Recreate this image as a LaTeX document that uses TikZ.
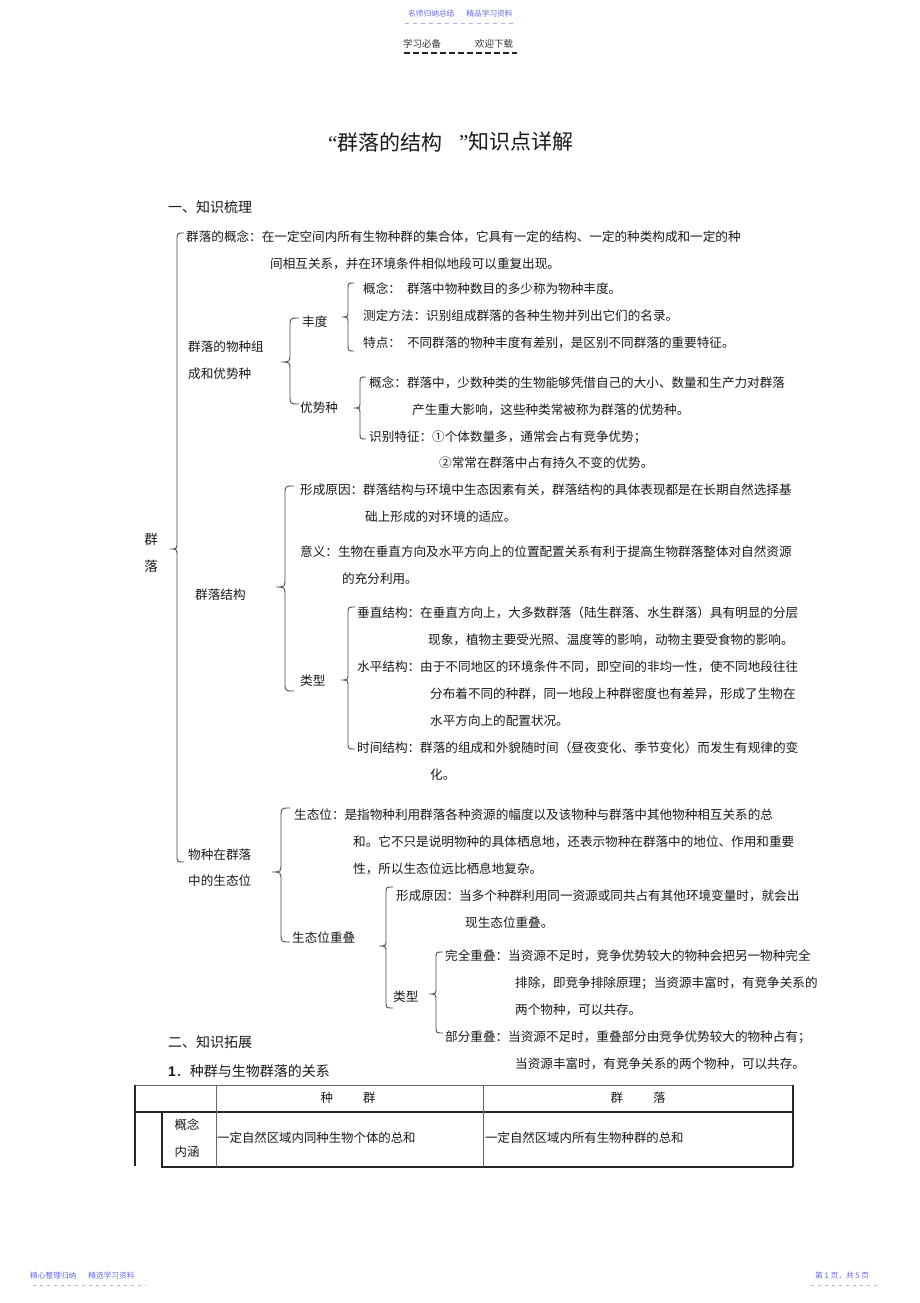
\documentclass[tikz,border=0pt]{standalone}
\usepackage{fontspec}
\newfontfamily\cjk{Noto Sans CJK SC}
\newfontfamily\lsans{Liberation Sans}
\newfontfamily\lserif{Liberation Serif}
\definecolor{hdrblue}{RGB}{105,105,235}
\definecolor{dashblue}{RGB}{175,175,240}
\definecolor{ink}{RGB}{25,25,25}
\newcommand\cbr[5]{%
  \draw[bracestyle] ({#1+#5},#2) .. controls (#1,#2) .. (#1,{#2+#5})
    -- (#1,{#3-#5}) .. controls (#1,#3) .. ({#1-#5},#3)
    .. controls (#1,#3) .. (#1,{#3+#5})
    -- (#1,{#4-#5}) .. controls (#1,#4) .. ({#1+#5},#4);}
\tikzset{
  txt/.style={anchor=west, inner sep=0pt, text=ink, font=\cjk\fontsize{12.6}{14}\selectfont},
  headtxt/.style={txt, font=\cjk\fontsize{14}{16}\selectfont},
  celltxt/.style={inner sep=0pt, text=ink, font=\cjk\fontsize{12.4}{14}\selectfont},
  bracestyle/.style={draw=black!70, line width=0.9pt},
  thickrule/.style={draw=black!85, line width=1.6pt},
  thinrule/.style={draw=black!60, line width=0.8pt},
  smallblue/.style={anchor=west, inner sep=0pt, text=hdrblue, font=\cjk\fontsize{7.7}{9}\selectfont},
}
\begin{document}
\begin{tikzpicture}[x=1pt,y=-1pt]
\useasboundingbox[fill=white] (0,0) rectangle (920,1303);

% page header
\node[smallblue] (hd1) at (408,14) {名师归纳总结\hspace{12pt}精品学习资料};
\draw[draw=dashblue, line width=0.8pt, dash pattern=on 4pt off 4pt] (405,23) -- (517,23);
\node[anchor=west, inner sep=0pt, text=black!80, font=\cjk\fontsize{9.5}{11}\selectfont] (hd2) at (403,44) {学习必备\hspace{34pt}欢迎下载};
\draw[draw=black!85, line width=1.3pt, dash pattern=on 6pt off 3pt] (404,53) -- (517,53);

% title
\node[anchor=west, inner sep=0pt, text=ink, font=\cjk\fontsize{21}{24}\selectfont] (title1) at (328,142) {{\lserif “}群落的结构};
\node[anchor=west, inner sep=0pt, text=ink, font=\cjk\fontsize{21}{24}\selectfont] (title2) at (459,142) {{\lserif ”}知识点详解};

% section 1
\node[headtxt] (sec1) at (168,207) {一、知识梳理};
\cbr{177}{233}{549}{862}{7}
\node[anchor=center, inner sep=0pt, text=ink, font=\cjk\fontsize{13.5}{15}\selectfont] (qun1) at (151,539) {群};
\node[anchor=center, inner sep=0pt, text=ink, font=\cjk\fontsize{13.5}{15}\selectfont] (qun2) at (151,566) {落};

\node[txt] (qu1) at (186,237) {群落的概念：在一定空间内所有生物种群的集合体，它具有一定的结构、一定的种类构成和一定的种};
\node[txt] (qu2) at (270,264) {间相互关系，并在环境条件相似地段可以重复出现。};

% species composition
\node[txt] (zc1) at (188,347) {群落的物种组};
\node[txt] (zc2) at (188,374) {成和优势种};
\cbr{290}{318}{362}{404}{9}
\node[txt] (fd) at (302,322) {丰度};
\cbr{348}{283}{317}{351}{6}
\node[txt] (fd1) at (363,289) {概念：\hspace{6pt}群落中物种数目的多少称为物种丰度。};
\node[txt] (fd2) at (363,316) {测定方法：识别组成群落的各种生物并列出它们的名录。};
\node[txt] (fd3) at (363,343) {特点：\hspace{6pt}不同群落的物种丰度有差别，是区别不同群落的重要特征。};
\node[txt] (ys) at (300,408) {优势种};
\cbr{360}{377}{408}{439}{6}
\node[txt] (ys1) at (369,383) {概念：群落中，少数种类的生物能够凭借自己的大小、数量和生产力对群落};
\node[txt] (ys2) at (412,410) {产生重大影响，这些种类常被称为群落的优势种。};
\node[txt] (ys3) at (369,437) {识别特征：①个体数量多，通常会占有竞争优势；};
\node[txt] (ys4) at (439,463) {②常常在群落中占有持久不变的优势。};

% structure
\node[txt] (jg) at (195,595) {群落结构};
\cbr{285}{486}{587}{691}{9}
\node[txt] (jg1) at (300,490) {形成原因：群落结构与环境中生态因素有关，群落结构的具体表现都是在长期自然选择基};
\node[txt] (jg2) at (365,517) {础上形成的对环境的适应。};
\node[txt] (jg3) at (300,552) {意义：生物在垂直方向及水平方向上的位置配置关系有利于提高生物群落整体对自然资源};
\node[txt] (jg4) at (342,579) {的充分利用。};
\node[txt] (lx) at (300,681) {类型};
\cbr{348}{607}{680}{749}{7}
\node[txt] (lx1) at (357,613) {垂直结构：在垂直方向上，大多数群落（陆生群落、水生群落）具有明显的分层};
\node[txt] (lx2) at (428,640) {现象，植物主要受光照、温度等的影响，动物主要受食物的影响。};
\node[txt] (lx3) at (357,667) {水平结构：由于不同地区的环境条件不同，即空间的非均一性，使不同地段往往};
\node[txt] (lx4) at (430,694) {分布着不同的种群，同一地段上种群密度也有差异，形成了生物在};
\node[txt] (lx5) at (430,721) {水平方向上的配置状况。};
\node[txt] (lx6) at (357,748) {时间结构：群落的组成和外貌随时间（昼夜变化、季节变化）而发生有规律的变};
\node[txt] (lx7) at (430,775) {化。};

% niche
\node[txt] (st1) at (188,855) {物种在群落};
\node[txt] (st2) at (188,881) {中的生态位};
\cbr{281}{808}{872}{942}{9}
\node[txt] (sp1) at (294,815) {生态位：是指物种利用群落各种资源的幅度以及该物种与群落中其他物种相互关系的总};
\node[txt] (sp2) at (353,842) {和。它不只是说明物种的具体栖息地，还表示物种在群落中的地位、作用和重要};
\node[txt] (sp3) at (353,869) {性，所以生态位远比栖息地复杂。};
\node[txt] (cd) at (292,938) {生态位重叠};
\cbr{386}{887}{946}{1008}{7}
\node[txt] (cd1) at (396,896) {形成原因：当多个种群利用同一资源或同共占有其他环境变量时，就会出};
\node[txt] (cd2) at (465,923) {现生态位重叠。};
\node[txt] (cl) at (393,997) {类型};
\cbr{436}{952}{994}{1033}{7}
\node[txt] (cl1) at (445,956) {完全重叠：当资源不足时，竞争优势较大的物种会把另一物种完全};
\node[txt] (cl2) at (515,983) {排除，即竞争排除原理；当资源丰富时，有竞争关系的};
\node[txt] (cl3) at (515,1010) {两个物种，可以共存。};
\node[txt] (cl4) at (445,1037) {部分重叠：当资源不足时，重叠部分由竞争优势较大的物种占有；};
\node[txt] (cl5) at (515,1064) {当资源丰富时，有竞争关系的两个物种，可以共存。};

% section 2
\node[headtxt] (sec2) at (168,1042) {二、知识拓展};
\node[headtxt] (sec3) at (168,1071) {{\lsans\bfseries 1}．种群与生物群落的关系};

% table
\draw[thinrule] (135,1085) -- (793,1085);
\draw[thickrule] (135,1085) -- (135,1166);
\draw[thickrule] (135,1112) -- (793,1112);
\draw[thickrule] (162,1112) -- (162,1167);
\draw[thickrule] (161,1167) -- (793,1167);
\draw[thickrule] (793,1085) -- (793,1167);
\draw[thinrule] (216,1085) -- (216,1167);
\draw[thinrule] (483,1085) -- (483,1167);
\node[celltxt] (th1) at (348,1098) {种\hspace{30pt}群};
\node[celltxt] (th2) at (638,1098) {群\hspace{30pt}落};
\node[celltxt] (tc1) at (187,1125) {概念};
\node[celltxt] (tc2) at (187,1152) {内涵};
\node[celltxt, anchor=west] (td1) at (217,1138) {一定自然区域内同种生物个体的总和};
\node[celltxt, anchor=west] (td2) at (485,1138) {一定自然区域内所有生物种群的总和};

% page footer
\node[smallblue] (ft1) at (30,1276) {精心整理归纳\hspace{12pt}精选学习资料};
\draw[draw=dashblue, line width=0.8pt, dash pattern=on 3pt off 4pt] (33,1285) -- (146,1285);
\node[smallblue] (ft2) at (815,1276) {第 1 页，共 5 页};
\draw[draw=dashblue, line width=0.8pt, dash pattern=on 3pt off 4pt] (811,1285) -- (877,1285);
\end{tikzpicture}
\end{document}
